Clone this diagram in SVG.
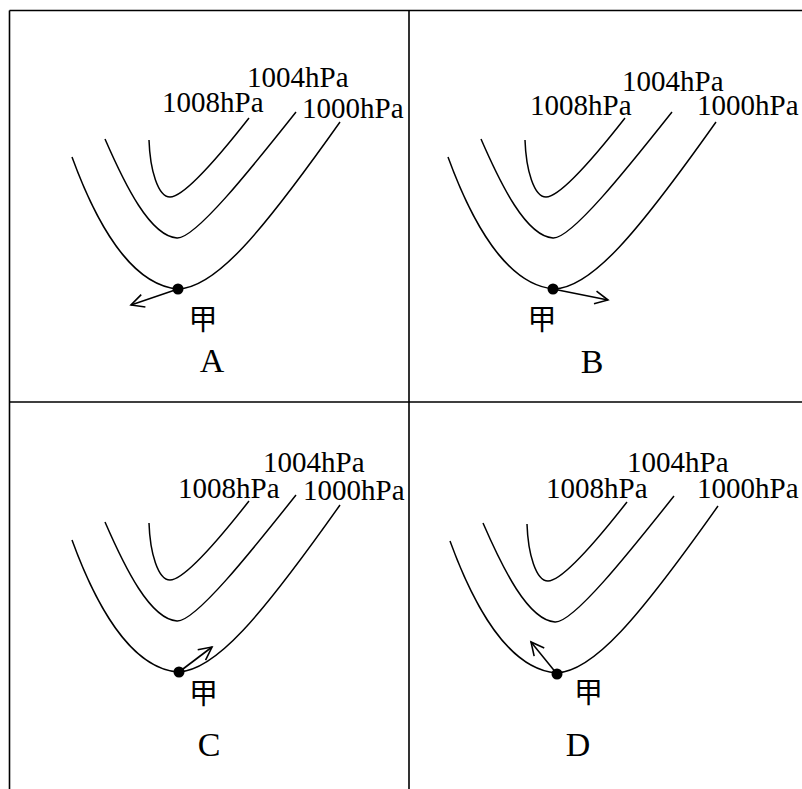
<svg xmlns="http://www.w3.org/2000/svg" xmlns:xlink="http://www.w3.org/1999/xlink" width="802" height="789" viewBox="0 0 802 789">
<style>
.frame{stroke:#000;stroke-width:1.6;fill:none}
.iso{stroke:#000;stroke-width:1.5;fill:none}
.lbl{font-family:"Liberation Serif","Times New Roman",serif;font-size:29px;fill:#000}
.jia{font-family:"Noto Sans CJK SC","Noto Sans CJK JP",sans-serif;font-size:29px;fill:#000;text-anchor:middle}
.letter{font-family:"Liberation Serif","Times New Roman",serif;font-size:34px;fill:#000;text-anchor:middle}
.arr{stroke:#000;stroke-width:1.6;fill:none;marker-end:url(#head)}
</style>
<defs>
<marker id="head" markerUnits="userSpaceOnUse" markerWidth="18" markerHeight="18" refX="15" refY="9" orient="auto">
<path d="M2,2.5 L15,9 L2,15.5" fill="none" stroke="#000" stroke-width="1.6"/>
</marker>
<g id="isobars">
<path class="iso" d="M72,157 C95,220 130,285 178,289 C215,288 260,235 340,122"/>
<path class="iso" d="M105,139 C125,185 150,236 177,238 C195,239 250,170 296,112"/>
<path class="iso" d="M149,140 C150,170 158,197 170,197 C185,197 220,155 249,118"/>
</g>
</defs>
<rect width="802" height="789" fill="#fff"/>
<g id="frame">
<path class="frame" d="M9.5,10.5 H802 M9.5,10.5 V789 M409,10.5 V789 M9.5,402 H802"/>
</g>
<g id="panelA">
<use xlink:href="#isobars" href="#isobars"/>
<text class="lbl" x="247" y="87">1004hPa</text>
<text class="lbl" x="162" y="112">1008hPa</text>
<text class="lbl" x="302" y="118">1000hPa</text>
<circle cx="178" cy="289" r="5.5"/>
<text class="jia" x="203" y="330">甲</text>
<text class="letter" x="212" y="372">A</text>
</g>
<g id="panelB">
<use xlink:href="#isobars" href="#isobars" transform="translate(376,0)"/>
<text class="lbl" x="622" y="91">1004hPa</text>
<text class="lbl" x="530" y="115">1008hPa</text>
<text class="lbl" x="697" y="115">1000hPa</text>
<circle cx="553" cy="289" r="5.5"/>
<text class="jia" x="542" y="330">甲</text>
<text class="letter" x="592" y="373">B</text>
</g>
<g id="panelC">
<use xlink:href="#isobars" href="#isobars" transform="translate(0,383)"/>
<text class="lbl" x="263" y="472">1004hPa</text>
<text class="lbl" x="178" y="498">1008hPa</text>
<text class="lbl" x="303" y="500">1000hPa</text>
<circle cx="179" cy="672" r="5.5"/>
<text class="jia" x="203.5" y="704">甲</text>
<text class="letter" x="209" y="756">C</text>
</g>
<g id="panelD">
<use xlink:href="#isobars" href="#isobars" transform="translate(378,384)"/>
<text class="lbl" x="627" y="472">1004hPa</text>
<text class="lbl" x="546" y="498">1008hPa</text>
<text class="lbl" x="697" y="498">1000hPa</text>
<circle cx="557" cy="674" r="5.5"/>
<text class="jia" x="588.5" y="703">甲</text>
<text class="letter" x="578" y="756">D</text>
</g>
<g id="connectors">
<path class="arr" d="M178,289 L131,305"/>
<path class="arr" d="M553,289 L608,300"/>
<path class="arr" d="M179,672 L212,647"/>
<path class="arr" d="M557,674 L531,642"/>
</g>
</svg>
